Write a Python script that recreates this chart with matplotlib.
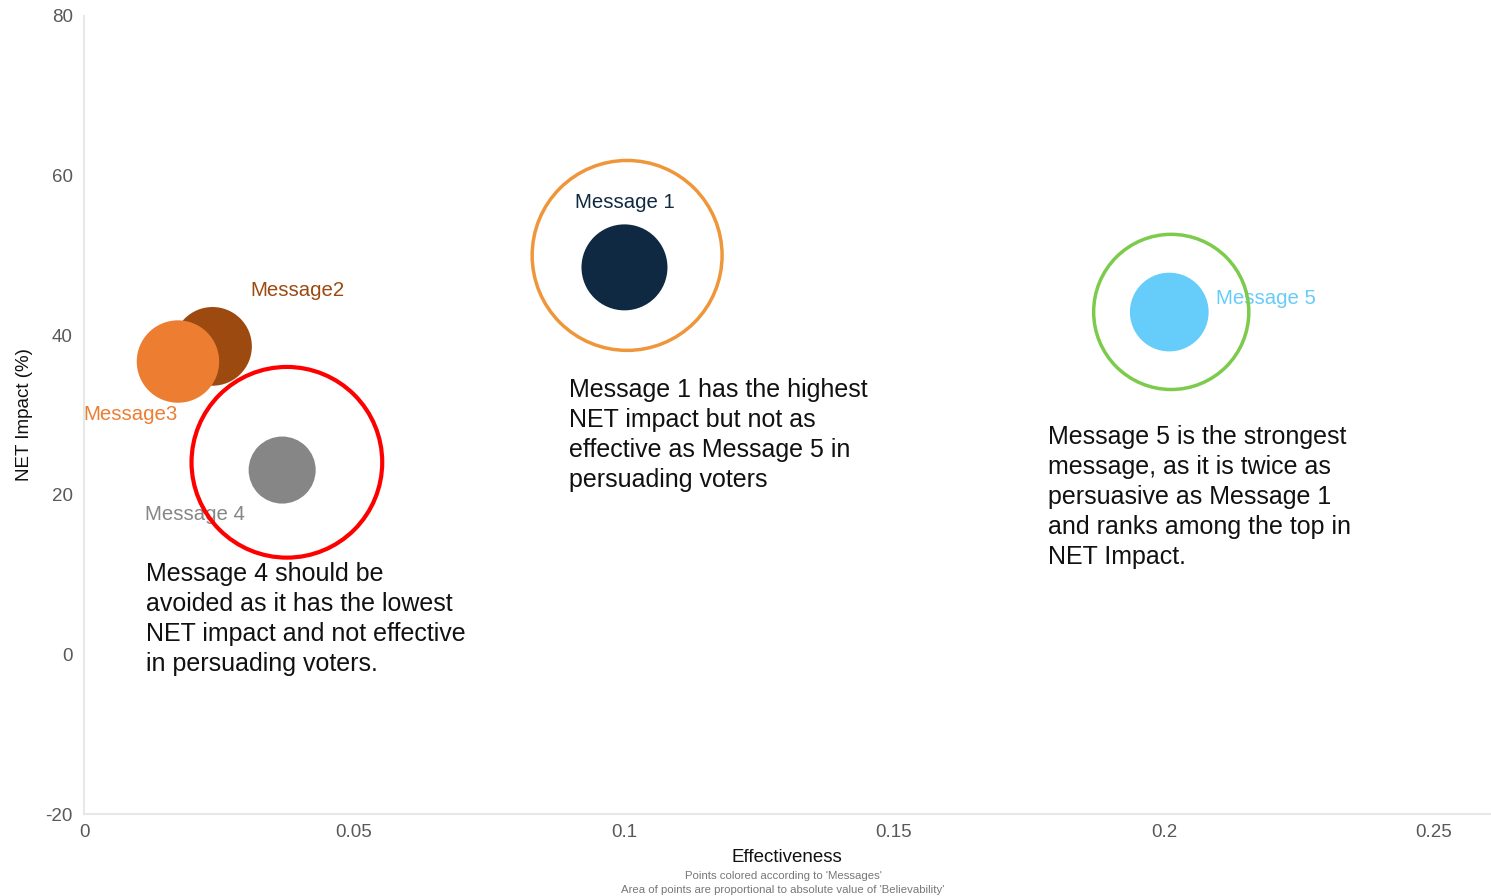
import matplotlib
matplotlib.use("Agg")
import matplotlib.pyplot as plt
from matplotlib.transforms import offset_copy

plt.rcParams['font.family'] = ['Liberation Sans', 'DejaVu Sans']
plt.rcParams['axes.unicode_minus'] = False

# ---- data ----
messages = ["Message 1", "Message2", "Message3", "Message 4", "Message 5"]
effectiveness = [0.1001, 0.0238, 0.0174, 0.0367, 0.2010]
net_impact = [48.5, 38.6, 36.7, 23.1, 42.9]
believability = [0.74, 0.62, 0.68, 0.45, 0.62]
colors = ["#0F2942", "#9C4A10", "#ED7D31", "#868686", "#66CCFA"]

x_ticks = [0, 0.05, 0.1, 0.15, 0.2, 0.25]
x_tick_labels = ["0", "0.05", "0.1", "0.15", "0.2", "0.25"]
y_ticks = [-20, 0, 20, 40, 60, 80]

# label offsets (points) and alignment per message
label_offsets = [(0, 47), (27, 40), (0, -38), (-27, -32), (34, 10)]
label_ha = ["center", "left", "right", "right", "left"]

# highlight rings: (message index, ring size, colour, lw, offset in points)
rings = [(0, 18700, "#F0963A", 2.5, (1.9, 8.6)),
         (3, 18850, "#FF0000", 3.0, (3.4, 5.6)),
         (4, 12480, "#7CCB4C", 2.5, (1.4, 0.1))]

notes = [
    (569, 378, "Message 1 has the highest\nNET impact but not as\neffective as Message 5 in\npersuading voters"),
    (146, 562, "Message 4 should be\navoided as it has the lowest\nNET impact and not effective\nin persuading voters."),
    (1048, 425, "Message 5 is the strongest\nmessage, as it is twice as\npersuasive as Message 1\nand ranks among the top in\nNET Impact."),
]

W, H = 1491, 896
fig = plt.figure(figsize=(W / 100, H / 100), dpi=100)
ax = fig.add_axes([84 / W, 82 / H, (1490 - 84) / W, (814 - 16) / H])

size_scale = 5180
sizes = [b * size_scale for b in believability]
ax.scatter(effectiveness, net_impact, s=sizes, c=colors, linewidths=0, zorder=3)

for i, m in enumerate(messages):
    ax.annotate(m, (effectiveness[i], net_impact[i]), xytext=label_offsets[i],
                textcoords="offset points", ha=label_ha[i], va="center",
                color=colors[i], fontsize=14.7, zorder=4)

for idx, s, col, lw, off in rings:
    tr = offset_copy(ax.transData, fig=fig, x=off[0], y=off[1], units="points")
    ax.scatter([effectiveness[idx]], [net_impact[idx]], s=s, facecolors="none",
               edgecolors=col, linewidths=lw, transform=tr, zorder=5)

ax.set_xlim(0, 0.2604)
ax.set_ylim(-20, 80)
ax.set_xticks(x_ticks)
ax.set_xticklabels(x_tick_labels)
ax.set_yticks(y_ticks)
ax.tick_params(length=0, labelsize=13.5, labelcolor="#595959")
ax.tick_params(axis="y", pad=8)
ax.tick_params(axis="x", pad=7)
for sp in ["top", "right"]:
    ax.spines[sp].set_visible(False)
for sp in ["left", "bottom"]:
    ax.spines[sp].set_color("#E8E8E8")
    ax.spines[sp].set_linewidth(1.5)

ax.set_xlabel("Effectiveness", fontsize=13.5, color="#111111", labelpad=6)
ax.set_ylabel("NET Impact (%)", fontsize=13.5, color="#111111", labelpad=9)

for px, py, txt in notes:
    fig.text(px / W, 1 - py / H, txt, ha="left", va="top", fontsize=18,
             color="#111111", linespacing=1.32)

fig.text(783 / W, 1 - 876 / H, "Points colored according to 'Messages'",
         ha="center", va="center", fontsize=8.2, color="#777777")
fig.text(783 / W, 1 - 889.5 / H,
         "Area of points are proportional to absolute value of 'Believability'",
         ha="center", va="center", fontsize=8.2, color="#777777")

fig.savefig("out.png", dpi=100)
